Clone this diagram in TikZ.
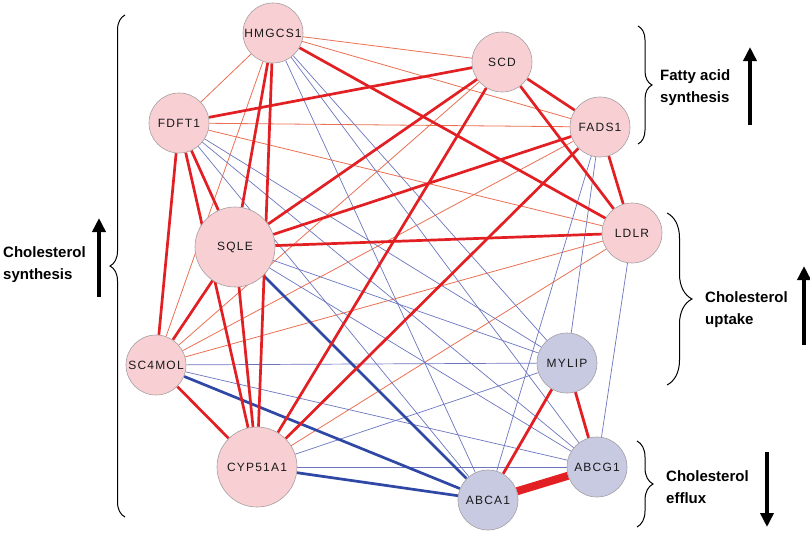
\documentclass[tikz,border=0pt]{standalone}
\usepackage{fontspec}
\setmainfont{Liberation Sans}
\newfontfamily\nodefont[LetterSpace=10]{Liberation Sans}
\usetikzlibrary{backgrounds,decorations.pathreplacing,arrows.meta}
\definecolor{pinkfill}{RGB}{248,208,212}
\definecolor{purplefill}{RGB}{200,202,226}
\definecolor{nodeborder}{RGB}{165,158,162}
\definecolor{posred}{RGB}{226,32,36}
\definecolor{weakred}{RGB}{236,112,82}
\definecolor{negblue}{RGB}{108,118,192}
\definecolor{negdark}{RGB}{48,72,165}
\begin{document}
\begin{tikzpicture}[x=1pt,y=-1pt,
  gene/.style={circle, draw=nodeborder, line width=0.6pt, inner sep=0pt,
    font=\nodefont\fontsize{12}{14}\selectfont, text=black!90},
  upgene/.style={gene, fill=pinkfill},
  downgene/.style={gene, fill=purplefill},
  smallgene/.style={minimum size=60pt},
  biggene/.style={minimum size=80pt},
  posedge/.style={draw=posred, line width=2.7pt},
  weakedge/.style={draw=weakred, line width=0.8pt},
  negthin/.style={draw=negblue, line width=0.7pt},
  negthick/.style={draw=negdark, line width=2.7pt},
  grp/.style={draw=black, line width=1pt, decorate, decoration={brace, amplitude=#1}},
  lbl/.style={font=\bfseries\fontsize{15}{22}\selectfont, align=left, anchor=west, inner sep=0pt},
  bigarrow/.style={line width=4.2pt, -{Triangle[width=13pt,length=14pt]}}
]
\useasboundingbox (0,0) rectangle (810,535);

% genes
\node[upgene, smallgene] (hmg)   at (273,33)  {HMGCS1};
\node[upgene, smallgene] (scd)   at (502,62)  {SCD};
\node[upgene, smallgene] (fdft)  at (179,123) {FDFT1};
\node[upgene, smallgene] (fads)  at (600,127) {FADS1};
\node[upgene, biggene]   (sqle)  at (235,247) {SQLE};
\node[upgene, smallgene] (ldlr)  at (632,233) {LDLR};
\node[upgene, smallgene] (sc4)   at (156,365) {SC4MOL};
\node[downgene, smallgene] (mylip) at (567,363) {MYLIP};
\node[upgene, biggene]   (cyp)   at (257,467) {CYP51A1};
\node[downgene, smallgene] (abcg)  at (597,467) {ABCG1};
\node[downgene, smallgene] (abca)  at (488,500) {ABCA1};

\begin{pgfonlayer}{background}
\fill[white] (0,0) rectangle (810,535);
% weak positive
\foreach \a/\b in {hmg/fdft, hmg/scd, hmg/fads, hmg/sc4, fdft/fads, fdft/ldlr,
                   scd/sc4, fads/sc4, ldlr/sc4, ldlr/cyp}
  \draw[weakedge] (\a) -- (\b);
% weak negative
\foreach \a/\b in {hmg/mylip, hmg/abca, hmg/abcg, fdft/mylip, fdft/abca, fdft/abcg,
                   fads/mylip, fads/abca, ldlr/abcg, sqle/mylip, sqle/abcg,
                   sc4/mylip, sc4/abcg, cyp/mylip, cyp/abcg}
  \draw[negthin] (\a) -- (\b);
% strong negative
\foreach \a/\b in {sqle/abca, sc4/abca, cyp/abca}
  \draw[negthick] (\a) -- (\b);
% strong positive
\foreach \a/\b in {hmg/ldlr, hmg/sqle, hmg/cyp, fdft/scd, fdft/sqle, fdft/sc4, fdft/cyp,
                   scd/fads, scd/ldlr, scd/sqle, scd/cyp, fads/ldlr, fads/sqle, fads/cyp,
                   ldlr/sqle, sqle/sc4, sqle/cyp, sc4/cyp}
  \draw[posedge] (\a) -- (\b);
\draw[posedge, line width=2.8pt] (mylip) -- (abca);
\draw[posedge, line width=2.8pt] (mylip) -- (abcg);
\draw[posedge, line width=8pt] (abca) -- (abcg);
\end{pgfonlayer}

% braces
\coordinate (synT) at (125,15);
\coordinate (synB) at (125,517);
\draw[grp=15pt] (synB) -- (synT);
\coordinate (fatT) at (638,26);
\coordinate (fatB) at (638,144);
\draw[grp=14pt] (fatT) -- (fatB);
\coordinate (uptT) at (667,213);
\coordinate (uptB) at (667,385);
\draw[grp=25pt] (uptT) -- (uptB);
\coordinate (effT) at (637,441);
\coordinate (effB) at (637,527);
\draw[grp=16pt] (effT) -- (effB);

% group labels
\node[lbl] (synL) at (3,265) {Cholesterol\\synthesis};
\node[lbl] (fatL) at (660,88) {Fatty acid\\synthesis};
\node[lbl] (uptL) at (705,310) {Cholesterol\\uptake};
\node[lbl] (effL) at (666,487) {Cholesterol\\efflux};

% arrows
\coordinate (synA) at (99,297);  \coordinate (synZ) at (99,218);
\draw[bigarrow] (synA) -- (synZ);
\coordinate (fatA) at (750,125); \coordinate (fatZ) at (750,47);
\draw[bigarrow] (fatA) -- (fatZ);
\coordinate (uptA) at (804,345); \coordinate (uptZ) at (804,266);
\draw[bigarrow] (uptA) -- (uptZ);
\coordinate (effA) at (767,452); \coordinate (effZ) at (767,527);
\draw[bigarrow] (effA) -- (effZ);
\end{tikzpicture}
\end{document}
